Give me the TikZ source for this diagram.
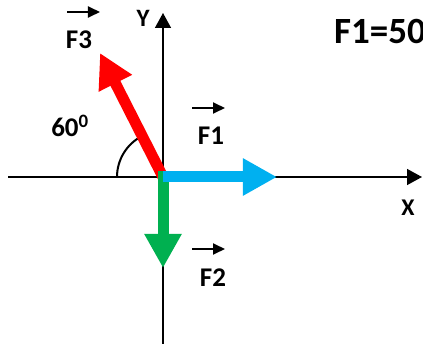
\documentclass[tikz,border=0pt]{standalone}
\usepackage{fontspec}
\setmainfont{Carlito}
\usetikzlibrary{arrows.meta}
\definecolor{fred}{HTML}{FF0000}
\definecolor{fblue}{HTML}{00B0F0}
\definecolor{fgreen}{HTML}{00B050}
\tikzset{
  axis/.style={line width=1.5bp, draw=black, -{Triangle[length=15bp,width=16bp]}},
  force/.style={line width=11bp, line cap=butt, -{Triangle[length=34bp,width=35bp]}},
  vecarrow/.style={line width=1.8bp, -{Triangle[length=12bp,width=11bp]}},
  lbl/.style={inner sep=0pt, font=\bfseries\fontsize{27bp}{31bp}\selectfont},
}
\begin{document}
\begin{tikzpicture}[x=1bp,y=1bp]
\useasboundingbox (0,0) rectangle (423,344);
\coordinate (O) at (163,167);
\coordinate (xs) at (8,167);
\coordinate (xe) at (422,167);
\coordinate (ys) at (163,0);
\coordinate (ye) at (163,331);
\coordinate (t3) at (100,291);
\coordinate (t1) at (277,167);
\coordinate (t2) at (163,76);
% axes
\draw[axis] (xs) -- (xe);
\draw[axis] (ys) -- (ye);
% angle arc
\draw[line width=2bp] (O) ++(180:46) arc[start angle=180, end angle=117, radius=46];
% forces
\draw[force, fred] (O) -- (t3);
\draw[force, fgreen] ([yshift=5.5bp]O) -- (t2);
\draw[force, fblue] ([xshift=-0.5bp]O) -- (t1);
% labels
\node[lbl] (f3) at (79,304) {F3};
\coordinate (a3s) at (67,332); \coordinate (a3e) at (100,332);
\draw[vecarrow] (a3s) -- (a3e);
\node[lbl] (f1) at (211,208) {F1};
\coordinate (a1s) at (192,236); \coordinate (a1e) at (225,236);
\draw[vecarrow] (a1s) -- (a1e);
\node[lbl] (f2) at (213,66) {F2};
\coordinate (a2s) at (192,95); \coordinate (a2e) at (225,95);
\draw[vecarrow] (a2s) -- (a2e);
\node[lbl] (ang) at (70,218) {60\textsuperscript{0}};
\node[lbl, font=\bfseries\fontsize{24bp}{28bp}\selectfont] (xl) at (408,136) {X};
\node[lbl, font=\bfseries\fontsize{25bp}{29bp}\selectfont] (yl) at (143,326) {Y};
\node[lbl, anchor=west, font=\bfseries\fontsize{37bp}{42bp}\selectfont] (eq) at (334,313) {F1=50};
\end{tikzpicture}
\end{document}
